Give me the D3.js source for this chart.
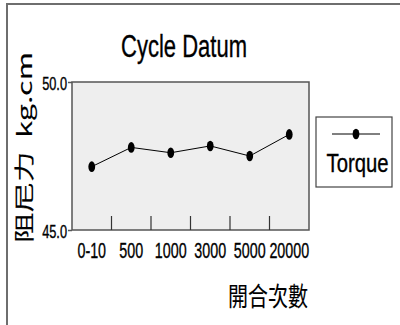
<!DOCTYPE html>
<html>
<head>
<meta charset="utf-8">
<script src="https://cdn.jsdelivr.net/npm/d3@7"></script>
<style>
  body { margin: 0; background: #fff; }
  text { font-family: "Liberation Sans", Arial, sans-serif; fill: #000; stroke: #000; stroke-width: 0.35px; }
  .cjk { font-family: "Noto Sans CJK TC", "Noto Sans CJK SC", sans-serif; stroke-width: 0.1px; }
</style>
</head>
<body>
<div id="chart"></div>
<script>
/* data */
var categories = ["0-10", "500", "1000", "3000", "5000", "20000"];
var torque = [47.14, 47.79, 47.61, 47.84, 47.5, 48.23];
var yTicks = [45, 50];
var seriesName = "Torque";

// the reference glyphs are narrow and tall, so squeeze text sideways
// with a transform (keeps the bbox honest, unlike textLength)
function squeeze(sel, f) {
  sel.attr("transform", function() {
    var old = d3.select(this).attr("transform") || "";
    return old + " scale(" + f + ",1)";
  });
}
// place a text at x,y (optionally rotated) and squeeze it to a target length
function place(t, px, py, rot, target) {
  var w = t.node().getComputedTextLength();
  t.attr("x", 0).attr("y", 0)
   .attr("transform", "translate(" + px + "," + py + ")" +
     (rot ? " rotate(" + rot + ")" : "") + " scale(" + (target / w) + ",1)");
}

var width = 400, height = 325;
var plot = {left: 72, right: 309, top: 82, bottom: 230};

var svg = d3.select("#chart").append("svg")
    .attr("width", width)
    .attr("height", height);

svg.append("rect").attr("width", width).attr("height", height).attr("fill", "#fff");

// outer frame (only left and top visible)
svg.append("path")
    .attr("d", "M7," + height + "V4H" + width)
    .attr("fill", "none")
    .attr("stroke", "#6e6e6e")
    .attr("stroke-width", 2);

var x = d3.scaleBand().domain(categories).range([plot.left, plot.right]);
var y = d3.scaleLinear().domain([45, 50]).range([plot.bottom, plot.top]);

// plot area
svg.append("rect")
    .attr("x", plot.left).attr("y", plot.top)
    .attr("width", plot.right - plot.left)
    .attr("height", plot.bottom - plot.top)
    .attr("fill", "#eeeeee")
    .attr("stroke", "#555")
    .attr("stroke-width", 1.5);

// y axis
var yAxis = svg.append("g")
    .attr("transform", "translate(" + plot.left + ",0)")
    .call(d3.axisLeft(y).tickValues(yTicks).tickSize(4).tickPadding(0).tickFormat(d3.format(".1f")));
yAxis.select(".domain").remove();
yAxis.selectAll(".tick line").attr("stroke", "#555").attr("stroke-width", 1.5);
yAxis.selectAll(".tick text")
    .attr("font-size", 18)
    .attr("font-family", "Liberation Sans, Arial, sans-serif")
    .attr("fill", "#000")
    .attr("x", -5 / 0.71)
    .attr("dy", 7)
    .call(squeeze, 0.71);

// x axis: labels under the plot, ticks inside at band boundaries
var xAxis = svg.append("g")
    .attr("transform", "translate(0," + plot.bottom + ")")
    .call(d3.axisBottom(x).tickSize(0).tickPadding(0));
xAxis.select(".domain").remove();
xAxis.selectAll(".tick text")
    .attr("font-size", 22)
    .attr("font-family", "Liberation Sans, Arial, sans-serif")
    .attr("fill", "#000")
    .attr("dy", 0)
    .attr("y", 28)
    .call(squeeze, 0.65);

svg.append("g").selectAll("line")
    .data(categories.slice(1))
  .enter().append("line")
    .attr("x1", function(d) { return x(d); })
    .attr("x2", function(d) { return x(d); })
    .attr("y1", plot.bottom - 14)
    .attr("y2", plot.bottom)
    .attr("stroke", "#333")
    .attr("stroke-width", 1.2);

// series
var line = d3.line()
    .x(function(d, i) { return x(categories[i]) + x.bandwidth() / 2; })
    .y(function(d) { return y(d); });

svg.append("path")
    .datum(torque)
    .attr("d", line)
    .attr("fill", "none")
    .attr("stroke", "#000")
    .attr("stroke-width", 1);

svg.append("g").selectAll("ellipse")
    .data(torque)
  .enter().append("ellipse")
    .attr("cx", function(d, i) { return x(categories[i]) + x.bandwidth() / 2; })
    .attr("cy", function(d) { return y(d); })
    .attr("rx", 3.4)
    .attr("ry", 5.3)
    .attr("fill", "#000");

// title
var title = svg.append("text")
    .attr("text-anchor", "middle")
    .attr("font-size", 31)
    .text("Cycle Datum");
place(title, 184, 57, 0, 126);

// y label
var yLab = svg.append("text")
    .attr("class", "cjk")
    .attr("text-anchor", "middle")
    .attr("font-size", 20)
    .style("white-space", "pre")
    .text("阻尼力  kg.cm");
place(yLab, 32, 147.5, -90, 191);

// x title
var xLab = svg.append("text")
    .attr("class", "cjk")
    .attr("text-anchor", "end")
    .attr("font-size", 26)
    .text("開合次數");
place(xLab, 308, 306, 0, 80);

// legend
var lg = svg.append("g");
lg.append("rect")
    .attr("x", 316).attr("y", 117)
    .attr("width", 76).attr("height", 70)
    .attr("fill", "#fff")
    .attr("stroke", "#444")
    .attr("stroke-width", 1.2);
lg.append("line")
    .attr("x1", 332).attr("x2", 380)
    .attr("y1", 134).attr("y2", 134)
    .attr("stroke", "#000");
lg.append("ellipse")
    .attr("cx", 356).attr("cy", 134)
    .attr("rx", 3.4).attr("ry", 5.3)
    .attr("fill", "#000");
var lgText = lg.append("text")
    .attr("text-anchor", "middle")
    .attr("font-size", 26)
    .text(seriesName);
place(lgText, 357.5, 172, 0, 62);
</script>
</body>
</html>
